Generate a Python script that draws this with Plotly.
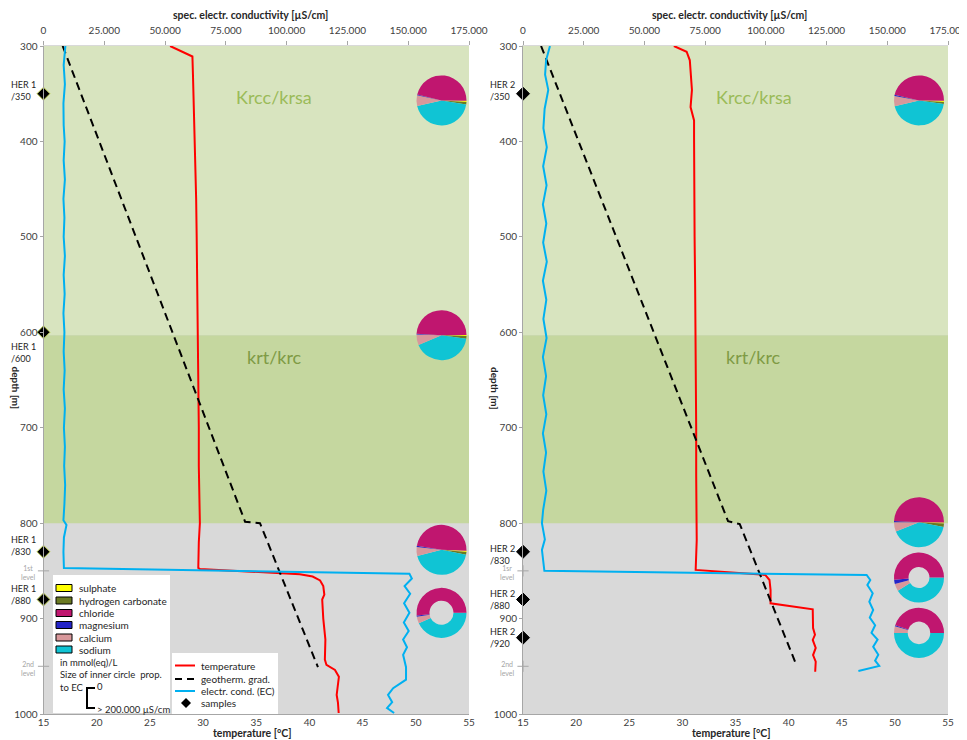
import plotly.graph_objects as go

# ---------------- data ----------------
temp_ticks = [15, 20, 25, 30, 35, 40, 45, 50, 55]
ec_ticks = [0, 25000, 50000, 75000, 100000, 125000, 150000, 175000]
ec_tick_text = ["0", "25.000", "50.000", "75.000", "100.000", "125.000", "150.000", "175.000"]
depth_ticks = [300, 400, 500, 600, 700, 800, 900, 1000]

# HER 1 – temperature [°C] vs depth [m]
her1_t_depth = [300, 305, 311, 330, 350, 388, 420, 460, 500, 540, 580, 620, 660, 700, 740, 780, 800, 820,
                847, 848, 853.5, 856, 860, 866, 875, 880, 900, 922, 943, 948.6, 953.9, 961, 972, 980, 988, 999]
her1_temp = [26.9, 27.8, 29.0, 29.05, 29.1, 29.24, 29.3, 29.35, 29.4, 29.45, 29.5, 29.5, 29.55, 29.6, 29.6,
             29.65, 29.7, 29.6, 29.55, 29.7, 39.1, 40.3, 41.0, 41.3, 41.4, 41.2, 41.3, 41.5, 41.45, 41.6, 42.4,
             42.77, 42.65, 42.56, 42.68, 42.75]
# HER 1 – geothermal gradient
her1_geo_depth = [300, 798.5, 800, 951]
her1_geo_temp = [16.8, 33.95, 35.35, 40.8]
# HER 1 – electrical conductivity [µS/cm]
her1_ec_depth = [300, 310, 320, 340, 360, 383, 400, 420, 440, 460, 480, 500, 520, 540, 560, 580, 600, 620, 640,
                 660, 680, 700, 720, 740, 760, 780, 797, 802, 807, 815, 830, 847, 853, 858, 866, 874, 884, 894,
                 904, 913, 922, 930, 938, 951, 964, 973, 980, 987.6, 993.7, 999]
her1_ec = [9000, 8600, 8300, 8800, 8200, 8300, 8700, 8300, 8800, 8200, 8600, 8300, 8800, 8300, 8700, 8200,
           8600, 8300, 8700, 8300, 8800, 8400, 8800, 8500, 8900, 8600, 8200, 9450, 9100, 8400, 8200, 8400,
           150500, 151500, 148500, 150800, 148300, 150500, 148200, 150200, 147900, 149500, 147900, 149100,
           149100, 143800, 141700, 143400, 141300, 144200]
her1_sample_depth = [350, 600, 830, 880]
her1_sample_label = ["HER 1<br>/350", "HER 1<br>/600", "HER 1<br>/830", "HER 1<br>/880"]

# HER 2
her2_t_depth = [300, 303, 306, 315, 327, 346, 364, 378, 396, 450, 500, 550, 600, 650, 700, 750, 800, 818, 849,
                854.3, 859.6, 870, 884, 890.3, 910, 917, 922.4, 930.8, 938.2, 945.2, 955.7]
her2_temp = [29.2, 29.8, 30.4, 30.7, 30.77, 30.9, 30.77, 31.1, 31.1, 31.1, 31.15, 31.2, 31.25, 31.25, 31.3,
             31.3, 31.3, 31.35, 31.25, 37.8, 38.2, 38.3, 38.3, 42.27, 42.3, 42.48, 42.27, 42.55, 42.3, 42.55, 42.5]
her2_geo_depth = [300, 798, 801, 945]
her2_geo_temp = [16.7, 34.3, 35.4, 40.6]
her2_ec_depth = [300, 315, 330, 346, 366, 386, 406, 426, 446, 466, 486, 506, 526, 546, 566, 586, 606, 626, 646,
                 666, 686, 706, 726, 746, 766, 786, 800, 817, 828, 840, 850, 854.3, 859.6, 864.8, 873.5, 882.3,
                 891, 899, 907, 915, 922, 929.5, 938, 944, 949.7, 955]
her2_ec = [11100, 9500, 9100, 10400, 8900, 8400, 9800, 8300, 9700, 8200, 9600, 8300, 9800, 8200, 9600, 8400,
           9700, 8200, 9500, 8300, 9600, 8200, 9500, 8400, 9600, 8300, 7800, 9000, 7800, 8300, 8800, 141500,
           143000, 141800, 144000, 142600, 144200, 142800, 145000, 143500, 146000, 144200, 146300, 145000,
           146700, 138100]
her2_sample_depth = [350, 830, 880, 920]
her2_sample_label = ["HER 2<br>/350", "HER 2<br>/830", "HER 2<br>/880", "HER 2<br>/920"]

level_depth = [850, 950]
her1_level_label = ["1st<br>level", "2nd<br>level"]
her2_level_label = ["1sr<br>level", "2nd<br>level"]

layer_names = ["Krcc/krsa", "krt/krc"]
layer_top = [300, 603]
layer_bottom = [603, 800]
layer_label_depth = [353, 626]
layer_label_temp = 36.7

ions = ["sulphate", "hydrogen carbonate", "chloride", "magnesium", "calcium", "sodium"]
# ion shares in mmol(eq)/L [%], order as `ions`
her1_pie_depth = [357, 603, 828, 894]
her1_pies = [[0.8, 1.5, 46.45, 0.5, 7.0, 43.75],
             [0.7, 1.7, 49.0, 0.55, 6.7, 41.4],
             [0.8, 1.7, 47.9, 0.8, 5.8, 43.0],
             [0.0, 0.0, 51.7, 0.8, 4.4, 43.1]]
her1_pie_hole = [0, 0, 0, 0.48]
her2_pie_depth = [357, 799, 857, 915]
her2_pies = [[0.8, 1.2, 46.7, 0.8, 6.5, 44.0],
             [0.6, 2.2, 49.5, 0.8, 6.1, 40.8],
             [0.0, 0.0, 51.4, 2.8, 4.7, 41.1],
             [0.0, 0.0, 45.0, 0.8, 4.2, 50.0]]
her2_pie_hole = [0, 0, 0.42, 0.45]

# ---------------- style ----------------
PAGE_OFF = 8                      # body margin of the html page
W, H = 967 - PAGE_OFF, 740 - PAGE_OFF
L_X0, L_X1 = 43.5, 469
R_X0, R_X1 = 523, 948
Y0, Y1 = 46, 714
FONT = "Lato"
ion_colors = ["#FFFF00", "#6B7A22", "#C0166F", "#2424C8", "#D8989B", "#10C4D4"]
layer_colors = ["#D8E4BF", "#C5D79F"]
layer_text_colors = ["#9BBB59", "#7F9B45"]
pie_draw_order = [0, 1, 5, 4, 3, 2]  # clockwise from the right side
her1_pie_rot = [91, 89.5, 92, 90]
her2_pie_rot = [91, 91, 90, 90]
her1_label_shift = [3, -20, 6, 5]
her2_label_shift = [3, -3, 0, 0]
RED, BLUE = "#FF0000", "#00B0F0"


def pxx(x):
    return (x - PAGE_OFF) / W


def pxy(y):
    return 1 - (y - PAGE_OFF) / H


def depth_px(d):
    return Y0 + (d - 300) / 700 * (Y1 - Y0)


fig = go.Figure()

panels = [
    dict(xt="x", xe="x2", y="y", x0=L_X0, x1=L_X1, td=her1_t_depth, t=her1_temp, gd=her1_geo_depth,
         g=her1_geo_temp, ed=her1_ec_depth, e=her1_ec, sd=her1_sample_depth, sl=her1_sample_label,
         ll=her1_level_label, pd=her1_pie_depth, pies=her1_pies, hole=her1_pie_hole, rot=her1_pie_rot,
         shift=her1_label_shift, dline="#C2D25A", pcx=L_X1 - 27.5),
    dict(xt="x3", xe="x4", y="y2", x0=R_X0, x1=R_X1, td=her2_t_depth, t=her2_temp, gd=her2_geo_depth,
         g=her2_geo_temp, ed=her2_ec_depth, e=her2_ec, sd=her2_sample_depth, sl=her2_sample_label,
         ll=her2_level_label, pd=her2_pie_depth, pies=her2_pies, hole=her2_pie_hole, rot=her2_pie_rot,
         shift=her2_label_shift, dline="#000000", pcx=R_X1 - 29),
]

annotations = []
shapes = []

for p in panels:
    fig.add_trace(go.Scatter(x=p["t"], y=p["td"], xaxis=p["xt"], yaxis=p["y"], mode="lines",
                             line=dict(color=RED, width=2), hoverinfo="skip", showlegend=False))
    fig.add_trace(go.Scatter(x=p["g"], y=p["gd"], xaxis=p["xt"], yaxis=p["y"], mode="lines",
                             line=dict(color="black", width=2, dash="8px,5px"), hoverinfo="skip",
                             showlegend=False))
    fig.add_trace(go.Scatter(x=p["e"], y=p["ed"], xaxis=p["xe"], yaxis=p["y"], mode="lines",
                             line=dict(color=BLUE, width=2), hoverinfo="skip", showlegend=False))
    fig.add_trace(go.Scatter(x=[15] * len(level_depth), y=level_depth, xaxis=p["xt"], yaxis=p["y"],
                             mode="markers", cliponaxis=False,
                             marker=dict(symbol="cross-thin", size=8, line=dict(color="#A6A6A6", width=1)),
                             hoverinfo="skip", showlegend=False))
    fig.add_trace(go.Scatter(x=[15] * len(p["sd"]), y=p["sd"], xaxis=p["xt"], yaxis=p["y"], mode="markers",
                             cliponaxis=False,
                             marker=dict(symbol="diamond", size=10, color="black",
                                         line=dict(color=p["dline"], width=1)),
                             hoverinfo="skip", showlegend=False))
    # layer bands
    for name, top, bot, col, tcol, ld in zip(layer_names, layer_top, layer_bottom, layer_colors,
                                              layer_text_colors, layer_label_depth):
        shapes.append(dict(type="rect", xref=p["xt"] + " domain", yref=p["y"], x0=0, x1=1, y0=top, y1=bot,
                           fillcolor=col, line=dict(width=0), layer="below"))
        annotations.append(dict(xref=p["xt"], yref=p["y"], x=layer_label_temp, y=ld, text=name,
                                showarrow=False, xanchor="center", yanchor="middle",
                                font=dict(family=FONT, size=18, color=tcol)))
    # sample labels
    for d, lab, sh in zip(p["sd"], p["sl"], p["shift"]):
        annotations.append(dict(xref=p["xt"], yref=p["y"], x=15, y=d, text=lab, showarrow=False,
                                xanchor="right", yanchor="middle", xshift=-6, yshift=sh, align="left",
                                font=dict(family=FONT, size=9, color="#262626")))
    for d, lab in zip(level_depth, p["ll"]):
        annotations.append(dict(xref=p["xt"], yref=p["y"], x=15, y=d, text=lab, showarrow=False,
                                xanchor="right", yanchor="middle", xshift=-7, yshift=-2, align="center",
                                font=dict(family=FONT, size=7, color="#A6A6A6")))
    # pies
    r = 25
    for d, vals, hole, rot in zip(p["pd"], p["pies"], p["hole"], p["rot"]):
        cy = depth_px(d)
        cx = p["pcx"]
        fig.add_trace(go.Pie(
            values=[vals[i] for i in pie_draw_order],
            labels=[ions[i] for i in pie_draw_order],
            marker=dict(colors=[ion_colors[i] for i in pie_draw_order], line=dict(width=0)),
            sort=False, direction="clockwise", rotation=rot, hole=hole, textinfo="none",
            hoverinfo="skip", showlegend=False, automargin=False,
            domain=dict(x=[pxx(cx - r), pxx(cx + r)], y=[pxy(cy + r), pxy(cy - r)])))
    # axis titles
    cxm = (p["x0"] + p["x1"]) / 2
    annotations.append(dict(xref="paper", yref="paper", x=pxx(cxm - 6), y=pxy(15),
                            xanchor="center", yanchor="middle",
                            text="<b>spec. electr. conductivity [µS/cm]</b>", showarrow=False,
                            font=dict(family=FONT, size=10.5, color="#262626")))
    annotations.append(dict(xref="paper", yref="paper", x=pxx(cxm - 4), y=pxy(733),
                            xanchor="center", yanchor="middle",
                            text="<b>temperature [°C]</b>", showarrow=False,
                            font=dict(family=FONT, size=10.5, color="#262626")))
    annotations.append(dict(xref="paper", yref="paper", x=pxx(p["x0"] - 28), y=pxy(388),
                            xanchor="center", yanchor="middle",
                            text="<b>depth [m]</b>", textangle=90, showarrow=False,
                            font=dict(family=FONT, size=10, color="#262626")))

# ---------------- legend boxes (left panel) ----------------
shapes.append(dict(type="rect", xref="paper", yref="paper", x0=pxx(53), x1=pxx(170), y0=pxy(713),
                   y1=pxy(575), fillcolor="white", line=dict(width=0), layer="above"))
shapes.append(dict(type="rect", xref="paper", yref="paper", x0=pxx(172), x1=pxx(278), y0=pxy(714),
                   y1=pxy(653), fillcolor="white", line=dict(width=0), layer="above"))
ion_rows = [588, 600.5, 613, 625, 637.5, 649.5]
for name, col, yy in zip(ions, ion_colors, ion_rows):
    shapes.append(dict(type="rect", xref="paper", yref="paper", x0=pxx(56), x1=pxx(72), y0=pxy(yy + 3.5),
                       y1=pxy(yy - 3.5), fillcolor=col, line=dict(color="#000000", width=1), layer="above"))
    annotations.append(dict(xref="paper", yref="paper", x=pxx(77), y=pxy(yy), text=name, showarrow=False,
                            xanchor="left", yanchor="middle", font=dict(family=FONT, size=10, color="#262626")))
for txt, yy, xx in [("in mmol(eq)/L", 662, 58), ("Size of inner circle  prop.", 674.5, 58), ("to EC", 687, 58),
                    ("0", 686, 95), ("> 200.000 µS/cm", 709, 95)]:
    annotations.append(dict(xref="paper", yref="paper", x=pxx(xx), y=pxy(yy), text=txt, showarrow=False,
                            xanchor="left", yanchor="middle", font=dict(family=FONT, size=9.5, color="#262626")))
shapes.append(dict(type="path", xref="paper", yref="paper", layer="above",
                   path=f"M {pxx(95)},{pxy(688)} L {pxx(87)},{pxy(688)} L {pxx(87)},{pxy(708)} L {pxx(95)},{pxy(708)}",
                   line=dict(color="black", width=2)))

leg_items = [("temperature", 665.5, dict(color=RED, width=2)),
             ("geotherm. grad.", 679, dict(color="black", width=2, dash="7px,5px")),
             ("electr. cond. (EC)", 691, dict(color=BLUE, width=2)),
             ("samples", 703, None)]
for txt, yy, ln in leg_items:
    if ln is not None:
        shapes.append(dict(type="line", xref="paper", yref="paper", x0=pxx(175), x1=pxx(195), y0=pxy(yy),
                           y1=pxy(yy), line=ln, layer="above"))
    else:
        shapes.append(dict(type="path", xref="paper", yref="paper", layer="above", fillcolor="black",
                           line=dict(width=0),
                           path=f"M {pxx(186)},{pxy(yy-5)} L {pxx(191)},{pxy(yy)} L {pxx(186)},{pxy(yy+5)} L {pxx(181)},{pxy(yy)} Z"))
    annotations.append(dict(xref="paper", yref="paper", x=pxx(199), y=pxy(yy), text=txt, showarrow=False,
                            xanchor="left", yanchor="middle", font=dict(family=FONT, size=10, color="#262626")))

# ---------------- axes ----------------
ydom = [pxy(Y1), pxy(Y0)]
base = dict(showgrid=False, zeroline=False, showline=True, linecolor="#A6A6A6", linewidth=1, ticks="outside",
            ticklen=3, tickcolor="#A6A6A6", tickfont=dict(family=FONT, size=10, color="#404040"),
            fixedrange=True, automargin=False)
layout_axes = {}
for xt, xe, ya, x0, x1 in [("xaxis", "xaxis2", "yaxis", L_X0, L_X1), ("xaxis3", "xaxis4", "yaxis2", R_X0, R_X1)]:
    yname = "y" if ya == "yaxis" else "y2"
    xtname = "x" if xt == "xaxis" else "x3"
    layout_axes[xt] = dict(base, domain=[pxx(x0), pxx(x1)], range=[15, 55], tickvals=temp_ticks,
                           anchor=yname, side="bottom", ticks="", ticklabelstandoff=-1)
    layout_axes[xe] = dict(base, domain=[pxx(x0), pxx(x1)], range=[0, 175000], tickvals=ec_ticks,
                           ticktext=ec_tick_text, overlaying=xtname, anchor=yname, side="top",
                           linecolor="#D9D9D9", ticklen=4, ticklabelstandoff=3)
    layout_axes[ya] = dict(base, domain=ydom, range=[1000, 300], tickvals=depth_ticks, anchor=xtname,
                           side="left")

fig.update_layout(
    template="none",
    width=W, height=H, autosize=False, margin=dict(l=0, r=0, t=0, b=0, autoexpand=False),
    paper_bgcolor="white", plot_bgcolor="#D9D9D9",
    font=dict(family=FONT, size=10, color="#262626"),
    showlegend=False, shapes=shapes, annotations=annotations,
    **layout_axes,
)

fig.write_html("out.html")
